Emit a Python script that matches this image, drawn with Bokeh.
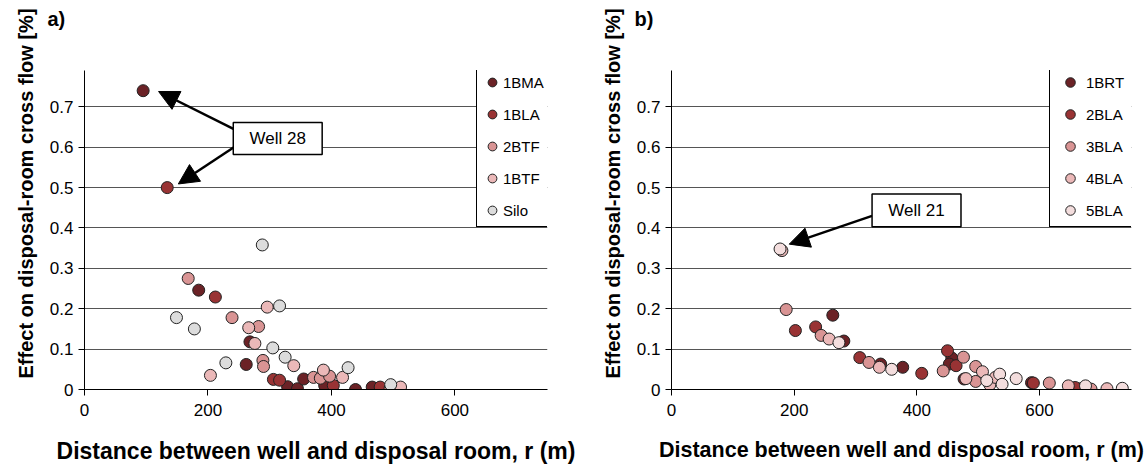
from bokeh.plotting import figure
from bokeh.layouts import row
from bokeh.models import (Legend, LegendItem, Arrow, NormalHead, BoxAnnotation,
                          Label, FixedTicker, Range1d, Title)
from bokeh.embed import file_html
from bokeh.resources import INLINE

FONT = "Liberation Sans"

# ---------------- data: panel a) ----------------
a_names = ["1BMA", "1BLA", "2BTF", "1BTF", "Silo"]
a_1bma_x = [95, 185, 268, 262, 329, 345, 355, 389, 439, 466]
a_1bma_y = [0.740, 0.246, 0.118, 0.062, 0.007, 0.002, 0.026, 0.010, 0.000, 0.006]
a_1bla_x = [134, 212, 306, 316, 403, 479]
a_1bla_y = [0.500, 0.229, 0.025, 0.023, 0.010, 0.006]
a_2btf_x = [168, 239, 282, 289, 290, 371, 382, 397, 495]
a_2btf_y = [0.275, 0.178, 0.156, 0.072, 0.057, 0.030, 0.028, 0.033, 0.003]
a_1btf_x = [204, 266, 276, 296, 339, 387, 418, 512]
a_1btf_y = [0.035, 0.153, 0.114, 0.204, 0.059, 0.048, 0.030, 0.006]
a_silo_x = [288, 149, 178, 316, 305, 325, 229, 427, 496]
a_silo_y = [0.358, 0.178, 0.150, 0.207, 0.103, 0.080, 0.066, 0.054, 0.012]

# ---------------- data: panel b) ----------------
b_names = ["1BRT", "2BLA", "3BLA", "4BLA", "5BLA"]
b_1brt_x = [263, 281, 341, 377, 457, 453, 477, 587, 667]
b_1brt_y = [0.184, 0.120, 0.063, 0.055, 0.078, 0.063, 0.026, 0.017, 0.002]
b_2bla_x = [202, 235, 307, 408, 450, 464, 590, 658]
b_2bla_y = [0.146, 0.155, 0.079, 0.040, 0.096, 0.059, 0.016, 0.005]
b_3bla_x = [187, 244, 322, 443, 476, 496, 496, 616, 684]
b_3bla_y = [0.198, 0.134, 0.067, 0.046, 0.080, 0.057, 0.020, 0.016, 0.001]
b_4bla_x = [180, 257, 339, 480, 507, 519, 528, 647, 710]
b_4bla_y = [0.344, 0.125, 0.055, 0.027, 0.044, 0.012, 0.030, 0.009, 0.002]
b_5bla_x = [177, 273, 359, 514, 535, 539, 562, 675, 735]
b_5bla_y = [0.348, 0.116, 0.050, 0.022, 0.038, 0.013, 0.027, 0.009, 0.003]

y_ticks = [0, 0.1, 0.2, 0.3, 0.4, 0.5, 0.6, 0.7]
y_tick_labels = ["0", "0.1", "0.2", "0.3", "0.4", "0.5", "0.6", "0.7"]
x_ticks = [0, 200, 400, 600]

a_colors = ["#6B2226", "#993334", "#D99494", "#EBB8B8", "#DCDCDC"]
b_colors = ["#6B2226", "#993334", "#D99494", "#EBB8B8", "#F3DDDD"]

X_LABEL = "Distance between well and disposal room, r (m)"
Y_LABEL = "Effect on disposal-room cross flow [%]"


def make_panel(width, border_left, border_right, names, xs, ys, colors,
               legend_xy, glyph_w, label_w, tag, xlabel_size):
    p = figure(width=width, height=468, output_backend="svg", toolbar_location=None,
               x_range=Range1d(0, 750), y_range=Range1d(0, 0.79),
               min_border_left=border_left, min_border_right=border_right,
               min_border_top=70, min_border_bottom=79)
    p.outline_line_color = None
    p.background_fill_color = "white"
    p.border_fill_color = "white"
    p.xgrid.grid_line_color = None
    p.ygrid.grid_line_color = "#555555"
    p.ygrid.grid_line_width = 1
    p.ygrid.ticker = FixedTicker(ticks=y_ticks)

    p.xaxis.ticker = FixedTicker(ticks=x_ticks)
    p.yaxis.ticker = FixedTicker(ticks=y_ticks)
    p.yaxis.major_label_overrides = dict(zip(y_ticks, y_tick_labels))
    for ax in (p.xaxis[0], p.yaxis[0]):
        ax.axis_line_color = "black"
        ax.axis_line_width = 1
        ax.major_tick_line_color = "black"
        ax.major_tick_out = 6
        ax.major_tick_in = 0
        ax.minor_tick_line_color = None
        ax.major_label_text_font = FONT
        ax.major_label_text_font_size = "17px"
        ax.major_label_text_color = "black"
        ax.axis_label_text_font = FONT
        ax.axis_label_text_font_style = "bold"
        ax.axis_label_text_color = "black"
    p.xaxis.axis_label = X_LABEL
    p.xaxis.axis_label_text_font_size = xlabel_size
    p.xaxis.major_label_standoff = 8
    p.yaxis.major_label_standoff = 5
    p.xaxis.axis_label_standoff = 19

    ytitle = Title(text=Y_LABEL, align="left", offset=11, standoff=19,
                   text_font=FONT, text_font_size="20px", text_font_style="bold",
                   text_color="black")
    p.add_layout(ytitle, "left")

    # spacer above the frame, then the panel tag outside it
    p.add_layout(Title(text=" ", text_font=FONT, text_font_size="35px", standoff=0), "above")
    tag_title = Title(text=tag, align="left", offset=-37, standoff=0,
                      text_font=FONT, text_font_size="20px", text_font_style="bold",
                      text_color="black")
    p.add_layout(tag_title, "above")

    items = []
    for name, x, y, c in zip(names, xs, ys, colors):
        r = p.scatter(x, y, size=12, fill_color=c, line_color="#222222", line_width=1)
        items.append(LegendItem(label=name, renderers=[r]))
    leg = Legend(items=items, location=legend_xy, orientation="vertical",
                 glyph_width=glyph_w, glyph_height=24, label_height=20,
                 label_width=label_w, label_standoff=0, spacing=8, padding=4, margin=0,
                 label_text_font=FONT, label_text_font_size="15px",
                 label_text_color="black",
                 border_line_color="black", border_line_width=1, border_line_alpha=1,
                 background_fill_color="white", background_fill_alpha=1)
    p.add_layout(leg)
    return p


def add_callout(p, box, text, arrows):
    for xs_, ys_, xe_, ye_ in arrows:
        p.add_layout(Arrow(end=NormalHead(size=20, fill_color="black", line_color="black"),
                           x_start=xs_, y_start=ys_, x_end=xe_, y_end=ye_,
                           line_width=2.5, line_color="black"))
    p.add_layout(BoxAnnotation(fill_color="white", fill_alpha=1, line_color="black",
                               line_alpha=1, line_width=1.5, **box))
    p.add_layout(Label(x=(box["left"] + box["right"]) / 2,
                       y=(box["bottom"] + box["top"]) / 2, text=text,
                       text_font=FONT, text_font_size="17px", text_align="center",
                       text_baseline="middle", text_color="black"))


# ---------------- panel a ----------------
p1 = make_panel(588, 84, 41, a_names,
                [a_1bma_x, a_1bla_x, a_2btf_x, a_1btf_x, a_silo_x],
                [a_1bma_y, a_1bla_y, a_2btf_y, a_1btf_y, a_silo_y],
                a_colors, (392, 162), 22, 40, "a)", "23px")
add_callout(p1, dict(left=241, right=385, bottom=0.582, top=0.661), "Well 28",
            [(242, 0.645, 120, 0.738), (242, 0.600, 152, 0.509)])

# ---------------- panel b ----------------
p2 = make_panel(560, 83, 17, b_names,
                [b_1brt_x, b_2bla_x, b_3bla_x, b_4bla_x, b_5bla_x],
                [b_1brt_y, b_2bla_y, b_3bla_y, b_4bla_y, b_5bla_y],
                b_colors, (378, 162), 32, 42, "b)", "21.5px")
add_callout(p2, dict(left=327, right=472, bottom=0.403, top=0.484), "Well 21",
            [(327, 0.430, 192, 0.360)])

layout = row(p1, p2)
open("out.html", "w").write(file_html(layout, INLINE))
